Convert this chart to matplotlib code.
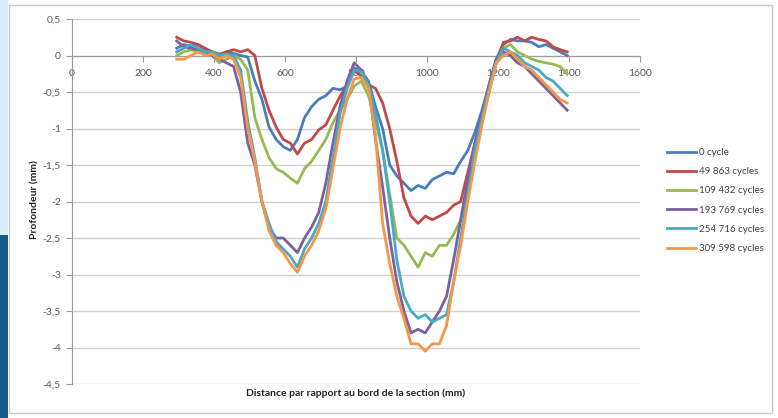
import matplotlib
matplotlib.use("Agg")
import matplotlib.pyplot as plt
from matplotlib.patches import Rectangle

plt.rcParams['font.family'] = ['Lato', 'DejaVu Sans']

# ---- data ----
distance = [295, 315, 335, 355, 375, 395, 415, 435, 455, 475, 495, 515, 535, 555,
            575, 595, 615, 635, 655, 675, 695, 715, 735, 755, 775, 795, 815, 835,
            855, 875, 895, 915, 935, 955, 975, 995, 1015, 1035, 1055, 1075, 1095,
            1115, 1135, 1155, 1175, 1195, 1215, 1235, 1255, 1275, 1295, 1315, 1335,
            1355, 1375, 1395]

cycle_0 = [0.10, 0.15, 0.12, 0.15, 0.08, 0.05, 0.02, 0.05, 0.03, 0.00, -0.02, -0.35,
           -0.60, -0.98, -1.15, -1.25, -1.30, -1.15, -0.85, -0.70, -0.60, -0.55, -0.45,
           -0.47, -0.42, -0.17, -0.22, -0.35, -0.70, -1.00, -1.50, -1.65, -1.75, -1.85,
           -1.78, -1.82, -1.70, -1.65, -1.60, -1.62, -1.45, -1.30, -1.05, -0.75, -0.40,
           -0.05, 0.15, 0.22, 0.20, 0.20, 0.18, 0.12, 0.15, 0.10, 0.05, 0.00]

cycle_49863 = [0.25, 0.20, 0.18, 0.15, 0.10, 0.05, 0.00, 0.05, 0.08, 0.05, 0.08, 0.00,
               -0.45, -0.75, -0.98, -1.15, -1.20, -1.35, -1.20, -1.15, -1.02, -0.95,
               -0.75, -0.56, -0.40, -0.21, -0.28, -0.40, -0.45, -0.65, -1.00, -1.45,
               -1.95, -2.20, -2.30, -2.20, -2.25, -2.20, -2.15, -2.05, -2.00, -1.60,
               -1.20, -0.80, -0.45, -0.10, 0.18, 0.20, 0.25, 0.20, 0.25, 0.22, 0.20,
               0.12, 0.08, 0.05]

cycle_109432 = [0.00, 0.05, 0.08, 0.05, 0.02, 0.00, -0.10, -0.05, 0.00, -0.05, -0.20,
                -0.85, -1.15, -1.40, -1.55, -1.60, -1.68, -1.75, -1.55, -1.45, -1.30,
                -1.15, -0.92, -0.75, -0.60, -0.42, -0.35, -0.55, -0.90, -1.30, -1.90,
                -2.50, -2.60, -2.75, -2.90, -2.70, -2.75, -2.60, -2.60, -2.45, -2.25,
                -1.85, -1.35, -0.90, -0.50, -0.10, 0.10, 0.15, 0.05, 0.00, -0.05, -0.08,
                -0.10, -0.12, -0.15, -0.25]

cycle_193769 = [0.20, 0.12, 0.10, 0.08, 0.05, 0.00, -0.05, -0.10, -0.15, -0.50, -1.20,
                -1.50, -2.00, -2.35, -2.50, -2.50, -2.60, -2.70, -2.50, -2.35, -2.15,
                -1.75, -1.20, -0.70, -0.35, -0.10, -0.20, -0.40, -1.15, -1.80, -2.50,
                -3.10, -3.50, -3.80, -3.75, -3.80, -3.65, -3.50, -3.30, -2.80, -2.25,
                -1.70, -1.20, -0.80, -0.40, -0.05, 0.05, 0.00, -0.10, -0.15, -0.25,
                -0.35, -0.45, -0.55, -0.65, -0.75]

cycle_254716 = [0.05, 0.10, 0.15, 0.10, 0.05, 0.05, 0.00, 0.02, 0.00, -0.20, -0.90,
                -1.40, -2.00, -2.30, -2.55, -2.65, -2.75, -2.90, -2.65, -2.50, -2.30,
                -2.00, -1.40, -0.80, -0.45, -0.20, -0.22, -0.40, -0.80, -1.30, -2.00,
                -2.80, -3.30, -3.50, -3.60, -3.55, -3.65, -3.60, -3.55, -3.10, -2.50,
                -1.90, -1.30, -0.85, -0.45, -0.10, 0.10, 0.05, 0.00, -0.10, -0.15,
                -0.20, -0.30, -0.35, -0.45, -0.55]

cycle_309598 = [-0.05, -0.05, 0.00, 0.05, 0.00, 0.02, -0.05, 0.00, -0.05, -0.30, -1.00,
                -1.45, -2.00, -2.40, -2.60, -2.70, -2.85, -2.97, -2.75, -2.60, -2.40,
                -2.10, -1.55, -1.00, -0.60, -0.32, -0.30, -0.45, -1.10, -2.30, -2.85,
                -3.30, -3.60, -3.95, -3.95, -4.05, -3.95, -3.95, -3.70, -3.10, -2.60,
                -2.00, -1.45, -0.95, -0.50, -0.10, 0.00, 0.05, -0.05, -0.15, -0.20,
                -0.30, -0.40, -0.50, -0.60, -0.65]

series_labels = ["0 cycle", "49 863 cycles", "109 432 cycles",
                 "193 769 cycles", "254 716 cycles", "309 598 cycles"]
series_values = [cycle_0, cycle_49863, cycle_109432, cycle_193769, cycle_254716, cycle_309598]
series_colors = ["#4A7EBB", "#BE4B48", "#98B954", "#7D60A0", "#46AAC5", "#F79646"]

x_ticks = [0, 200, 400, 600, 800, 1000, 1200, 1400, 1600]
y_ticks = [0.5, 0, -0.5, -1, -1.5, -2, -2.5, -3, -3.5, -4, -4.5]
y_tick_labels = ["0,5", "0", "-0,5", "-1", "-1,5", "-2", "-2,5", "-3", "-3,5", "-4", "-4,5"]

# ---- figure ----
W, H = 778, 418
fig = plt.figure(figsize=(W / 100, H / 100), dpi=100)
fig.patch.set_facecolor("white")

# slide decoration on the left edge
fig.add_artist(Rectangle((0, 1 - 235 / H), 8 / W, 235 / H, transform=fig.transFigure,
                         facecolor="#d8eef9", edgecolor="none", zorder=0))
fig.add_artist(Rectangle((0, 0), 8 / W, (H - 235) / H, transform=fig.transFigure,
                         facecolor="#14598c", edgecolor="none", zorder=0))
# chart frame
fig.add_artist(Rectangle((9 / W, 5 / H), (772 - 9) / W, (413 - 5) / H,
                         transform=fig.transFigure, facecolor="none",
                         edgecolor="#c8c8c8", lw=1.0, zorder=1))

ax = fig.add_axes([72 / W, 1 - 384 / H, (640 - 72) / W, (384 - 19) / H])
ax.set_facecolor("none")

for vals, lab, col in zip(series_values, series_labels, series_colors):
    ax.plot(distance, vals, color=col, lw=2.0, label=lab, solid_joinstyle="round", zorder=3)

ax.set_xlim(0, 1600)
ax.set_ylim(-4.5, 0.5)
ax.set_xticks(x_ticks)
ax.set_xticklabels([str(v) for v in x_ticks])
ax.set_yticks(y_ticks)
ax.set_yticklabels(y_tick_labels)

for y in y_ticks:
    ax.axhline(y, color="#d0d0d0", lw=1.0, zorder=1)

for s in ["top", "right"]:
    ax.spines[s].set_visible(False)
ax.spines["bottom"].set_position(("data", 0))
ax.spines["bottom"].set_color("#9a9a9a")
ax.spines["left"].set_color("#9a9a9a")
ax.spines["bottom"].set_zorder(2)

ax.tick_params(axis="x", direction="out", length=4, color="#9a9a9a",
               labelsize=7.5, labelcolor="#595959", pad=6)
ax.tick_params(axis="y", direction="out", length=4, color="#9a9a9a",
               labelsize=7.5, labelcolor="#595959", pad=4)

fig.text(356 / W, 1 - 393 / H, "Distance par rapport au bord de la section (mm)",
         ha="center", va="center", fontsize=7.5, fontweight="bold", color="#222222")
fig.text(35 / W, 1 - 200 / H, "Profondeur (mm)", rotation=90,
         ha="center", va="center", fontsize=7.5, fontweight="bold", color="#222222")

leg = fig.legend(loc="upper left", bbox_to_anchor=(667 / W, 1 - 148 / H),
                 frameon=False, fontsize=7, handlelength=3.0, handletextpad=0.3,
                 labelspacing=1.05, borderaxespad=0, borderpad=0)
for t in leg.get_texts():
    t.set_color("#404040")

fig.savefig("out.png", dpi=100, facecolor="white")
